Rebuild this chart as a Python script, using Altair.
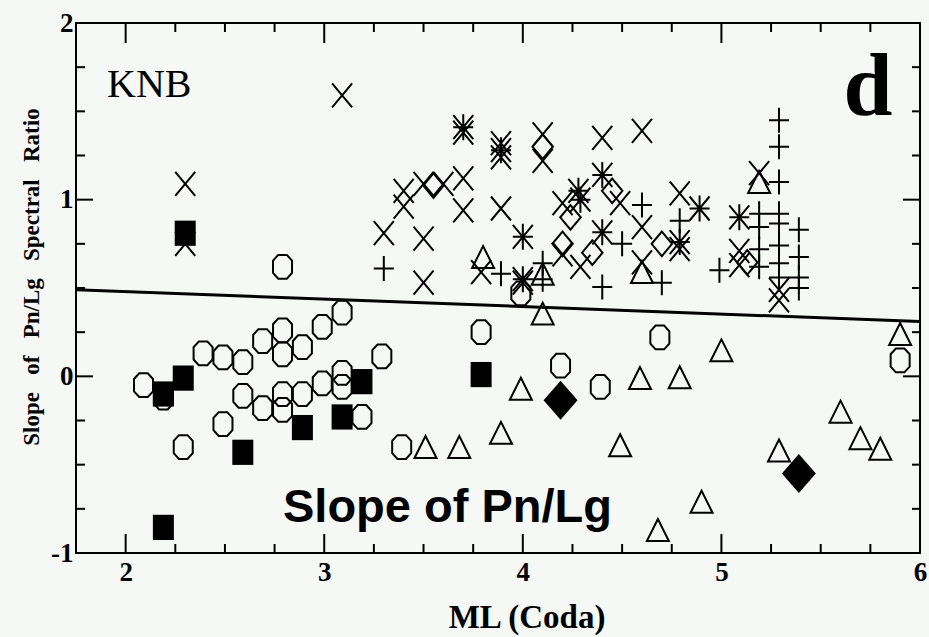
import altair as alt
import pandas as pd

# ---------------- data ----------------
# filled squares
sq_x = [2.30, 2.29, 2.19, 2.89, 2.59, 3.09, 3.19, 2.19, 3.79]
sq_y = [0.81, -0.01, -0.10, -0.29, -0.43, -0.23, -0.03, -0.855, 0.01]

# filled diamonds
fd_x = [4.19, 5.39]
fd_y = [-0.135, -0.55]

# open octagons
oc_x = [2.79, 3.09, 2.99, 2.79, 2.69, 2.89, 2.79, 2.39, 2.49, 2.59, 3.29, 2.09,
        3.09, 3.09, 2.99, 2.89, 2.79, 2.59, 2.69, 2.79, 3.19, 2.49, 2.29, 3.39,
        2.19, 3.79, 4.19, 4.39, 4.69, 5.90, 3.99]
oc_y = [0.62, 0.36, 0.28, 0.26, 0.20, 0.165, 0.125, 0.13, 0.107, 0.08, 0.113, -0.05,
        0.02, -0.06, -0.04, -0.10, -0.10, -0.11, -0.18, -0.19, -0.23, -0.27, -0.40, -0.40,
        -0.12, 0.25, 0.06, -0.06, 0.22, 0.09, 0.47]

# open triangles
tr_x = [3.51, 3.68, 3.89, 3.99, 4.10, 4.49, 4.59, 4.79, 5.00, 4.68, 4.90, 5.29,
        5.60, 5.70, 5.80, 5.90, 3.80, 4.60, 5.19, 4.10]
tr_y = [-0.40, -0.40, -0.32, -0.07, 0.355, -0.39, -0.01, -0.005, 0.147, -0.87, -0.71, -0.42,
        -0.20, -0.35, -0.41, 0.24, 0.675, 0.59, 1.10, 0.58]

# crosses (x)
cx_x = [2.30, 2.30, 3.09, 3.70, 3.89, 3.89, 4.10, 4.10, 4.40, 4.60, 3.40, 3.40,
        3.50, 3.60, 3.70, 3.70, 3.30, 3.50, 3.50, 3.89, 3.79, 4.00, 4.20, 4.20,
        4.29, 4.49, 4.60, 4.60, 4.79, 4.79, 5.09, 5.09, 5.19, 5.29, 5.29]
cx_y = [1.09, 0.75, 1.59, 1.38, 1.32, 1.24, 1.37, 1.22, 1.35, 1.39, 1.05, 0.96,
        1.09, 1.09, 1.12, 0.94, 0.81, 0.78, 0.53, 0.95, 0.59, 0.53, 0.98, 0.69,
        0.62, 0.98, 0.845, 0.645, 1.035, 0.72, 0.71, 0.63, 1.15, 0.49, 0.43]

# asterisks
as_x = [3.70, 3.89, 4.00, 4.00, 4.28, 4.29, 4.40, 4.79, 4.89, 5.09, 4.40]
as_y = [1.41, 1.28, 0.79, 0.55, 1.05, 1.00, 0.815, 0.76, 0.95, 0.90, 1.14]

# pluses
pl_x = [3.30, 3.89, 4.10, 4.10, 4.40, 4.50, 4.60, 4.70, 4.79, 4.99,
        5.29, 5.29, 5.29, 5.29, 5.29, 5.29, 5.29, 5.29,
        5.19, 5.19, 5.19, 5.19, 5.39, 5.39, 5.39, 5.39]
pl_y = [0.61, 0.58, 0.64, 0.55, 0.505, 0.75, 0.97, 0.53, 0.88, 0.60,
        1.45, 1.30, 1.10, 0.92, 0.865, 0.74, 0.64, 0.56,
        0.92, 0.845, 0.72, 0.62, 0.83, 0.675, 0.56, 0.50]

# open diamonds
od_x = [3.55, 4.10, 4.20, 4.24, 4.70, 5.13, 4.45, 4.35]
od_y = [1.08, 1.30, 0.75, 0.90, 0.75, 0.645, 1.05, 0.70]

# regression line
fit_x = [1.75, 6.0]
fit_y = [0.49, 0.31]

# axes
x_domain = [1.75, 6.0]
y_domain = [-1.0, 2.0]
x_major = [2, 3, 4, 5, 6]
x_minor = [2.25, 2.5, 2.75, 3.25, 3.5, 3.75, 4.25, 4.5, 4.75, 5.25, 5.5, 5.75]
y_major = [-1, 0, 1, 2]
y_minor = [-0.75, -0.5, -0.25, 0.25, 0.5, 0.75, 1.25, 1.5, 1.75]

# texts
station_label = ["KNB"]
panel_label = ["d"]
inset_title = ["Slope of Pn/Lg"]
x_title = ["ML (Coda)"]
y_title = ["Slope\u00a0\u00a0\u00a0of\u00a0\u00a0\u00a0Pn/Lg\u00a0\u00a0\u00a0Spectral\u00a0\u00a0\u00a0Ratio"]

# ---------------- chart ----------------
W, H = 844, 530
SERIF = "Liberation Serif"
SANS = "Liberation Sans"

xs = alt.Scale(domain=x_domain, nice=False, zero=False)
ys = alt.Scale(domain=y_domain, nice=False, zero=False)

x_axis = alt.Axis(values=x_major, ticks=False, tickSize=0, domain=False, grid=False,
                  labelFont=SERIF, labelFontWeight="bold", labelFontSize=27,
                  labelColor="black", labelPadding=6, labelFlush=False, title=None)
y_axis = alt.Axis(values=y_major, ticks=False, tickSize=0, domain=False, grid=False,
                  labelFont=SERIF, labelFontWeight="bold", labelFontSize=27,
                  labelColor="black", labelPadding=3, labelFlush=False,
                  labelExpr="'' + datum.value", title=None)


def XE(f):
    return alt.X(f"{f}:Q", scale=xs, axis=x_axis, title=None)


def YE(f):
    return alt.Y(f"{f}:Q", scale=ys, axis=y_axis, title=None)


def pts(xv, yv):
    return pd.DataFrame({"x": xv, "y": yv})


P_SQUARE = "M-1,-1.2H1V1.2H-1Z"
P_OCT = "M-0.45,-1.25L0.45,-1.25L1,-0.65L1,0.65L0.45,1.25L-0.45,1.25L-1,0.65L-1,-0.65Z"
P_TRI = "M0,-1L1,1L-1,1Z"
P_DIA = "M0,-1.15L1,0L0,1.15L-1,0Z"
P_X = "M-1,-1.2L1,1.2M-1,1.2L1,-1.2"
P_PLUS = "M-1,0H1M0,-1.25V1.25"
P_AST = "M-1,-1.2L1,1.2M-1,1.2L1,-1.2M0,-1.3V1.3M-1,0H1"
P_ODIA = "M0,-1.2L1,0L0,1.2L-1,0Z"


def symbols(xv, yv, shape, size, filled):
    if filled:
        m = alt.Chart(pts(xv, yv)).mark_point(shape=shape, size=size, filled=True,
                                               fill="black", opacity=1, strokeWidth=0)
    else:
        m = alt.Chart(pts(xv, yv)).mark_point(shape=shape, size=size, filled=False,
                                               stroke="black", strokeWidth=2, opacity=1)
    return m.encode(x=XE("x"), y=YE("y"))


line = alt.Chart(pd.DataFrame({"x": fit_x, "y": fit_y})).mark_line(
    color="black", strokeWidth=3).encode(x=XE("x"), y=YE("y"))


def ticks_x(vals, length, top):
    c = alt.Chart(pd.DataFrame({"v": vals})).mark_rule(color="black", strokeWidth=2)
    if top:
        return c.encode(x=XE("v"), y=alt.value(0), y2=alt.value(length))
    return c.encode(x=XE("v"), y=alt.value(H), y2=alt.value(H - length))


def ticks_y(vals, length, right):
    c = alt.Chart(pd.DataFrame({"v": vals})).mark_rule(color="black", strokeWidth=2)
    if right:
        return c.encode(y=YE("v"), x=alt.value(W), x2=alt.value(W - length))
    return c.encode(y=YE("v"), x=alt.value(0), x2=alt.value(length))


def label(txt, x, y, font, size, weight="normal", align="left", angle=0):
    kw = dict(font=font, fontSize=size, fontWeight=weight, align=align,
              baseline="alphabetic", color="black")
    if angle:
        kw["angle"] = angle
        kw["baseline"] = "middle"
    return alt.Chart(pd.DataFrame({"t": txt})).mark_text(**kw).encode(
        x=alt.value(x), y=alt.value(y), text="t:N")


layers = [
    ticks_x(x_major, 19, False), ticks_x(x_minor, 9, False),
    ticks_x(x_major, 20, True), ticks_x(x_minor, 9, True),
    ticks_y(y_major, 17, False), ticks_y(y_minor, 9, False),
    ticks_y(y_major, 17, True), ticks_y(y_minor, 8, True),
    line,
    symbols(oc_x, oc_y, P_OCT, 361, False),
    symbols(tr_x, tr_y, P_TRI, 484, False),
    symbols(cx_x, cx_y, P_X, 400, False),
    symbols(pl_x, pl_y, P_PLUS, 400, False),
    symbols(as_x, as_y, P_AST, 400, False),
    symbols(od_x, od_y, P_ODIA, 420, False),
    symbols(sq_x, sq_y, P_SQUARE, 441, True),
    symbols(fd_x, fd_y, P_DIA, 1156, True),
    label(station_label, 31, 74, SERIF, 40),
    label(panel_label, 792, 92, SERIF, 88, "bold", "center"),
    label(inset_title, 207, 499, SANS, 47, "bold"),
    label(x_title, 451, 605, SERIF, 33, "bold", "center"),
    label(y_title, -44, 254, SERIF, 23, "bold", "center", 270),
]

chart = alt.layer(*layers).properties(
    width=W, height=H,
    autosize=alt.AutoSizeParams(type="none"),
    padding={"left": 76, "top": 23, "right": 9, "bottom": 84},
    background="#f6f8f6",
).configure_view(stroke="black", strokeWidth=2)

chart.save("out.html", embed_options={"renderer": "svg", "actions": False})
